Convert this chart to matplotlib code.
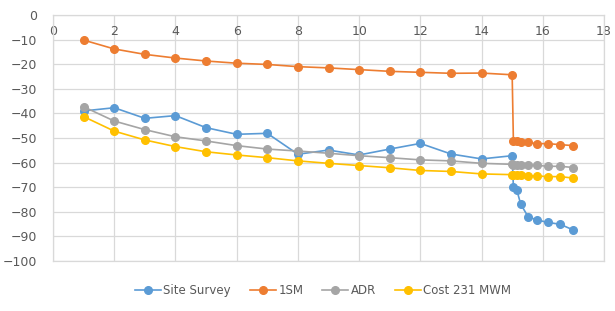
import matplotlib
matplotlib.use("Agg")
import matplotlib.pyplot as plt

# distance values (shared by all series)
x = [1, 2, 3, 4, 5, 6, 7, 8, 9, 10, 11, 12, 13, 14, 15,
     15.04, 15.15, 15.28, 15.52, 15.8, 16.17, 16.57, 17.0]

site_survey = [-39.0, -37.7, -42.0, -40.9, -45.8, -48.5, -48.1, -56.6, -54.9, -56.9,
               -54.5, -52.2, -56.5, -58.5, -57.2,
               -69.8, -71.1, -76.9, -82.0, -83.3, -84.3, -85.1, -87.4]
sm1 = [-10.2, -13.8, -16.0, -17.5, -18.7, -19.6, -20.1, -21.0, -21.5, -22.2,
       -22.9, -23.3, -23.7, -23.6, -24.3,
       -51.2, -51.2, -51.8, -51.8, -52.3, -52.3, -52.7, -53.1]
adr = [-37.3, -43.1, -46.6, -49.5, -51.2, -53.1, -54.5, -55.3, -56.2, -57.2,
       -58.0, -58.9, -59.3, -60.3, -60.7,
       -60.8, -60.9, -61.1, -61.1, -61.1, -61.5, -61.5, -62.0]
cost231 = [-41.3, -47.2, -50.8, -53.5, -55.6, -56.9, -58.0, -59.3, -60.3, -61.2,
           -62.1, -63.2, -63.6, -64.6, -64.9,
           -65.0, -65.0, -65.0, -65.4, -65.4, -65.7, -65.7, -66.3]

series = [
    ("Site Survey", site_survey, "#5B9BD5"),
    ("1SM", sm1, "#ED7D31"),
    ("ADR", adr, "#A5A5A5"),
    ("Cost 231 MWM", cost231, "#FFC000"),
]

fig = plt.figure(figsize=(6.15, 3.11), dpi=100)
ax = fig.add_axes([53 / 615, 50 / 311, 551 / 615, 246 / 311])

for name, vals, col in series:
    ax.plot(x, vals, color=col, lw=1.2, marker="o", ms=5.5, label=name)

ax.set_xlim(0, 18)
ax.set_ylim(-100, 0)
ax.set_xticks(range(0, 19, 2))
ax.set_yticks(range(-100, 1, 10))
ax.grid(True, color="#D9D9D9", lw=0.9)
ax.set_axisbelow(True)
for s in ax.spines.values():
    s.set_color("#D9D9D9")
    s.set_linewidth(0.9)

ax.tick_params(axis="x", top=False, bottom=False, labeltop=True, labelbottom=False,
               pad=-20, labelsize=9, labelcolor="#595959")
ax.tick_params(axis="y", left=False, labelsize=9, labelcolor="#595959", pad=8)

ax.legend(loc="upper center", bbox_to_anchor=(0.49, -0.05), ncol=4, frameon=False,
          fontsize=8.5, labelcolor="#595959", handlelength=2.2, columnspacing=1.6,
          handletextpad=0.2)

fig.savefig("out.png", dpi=100)
